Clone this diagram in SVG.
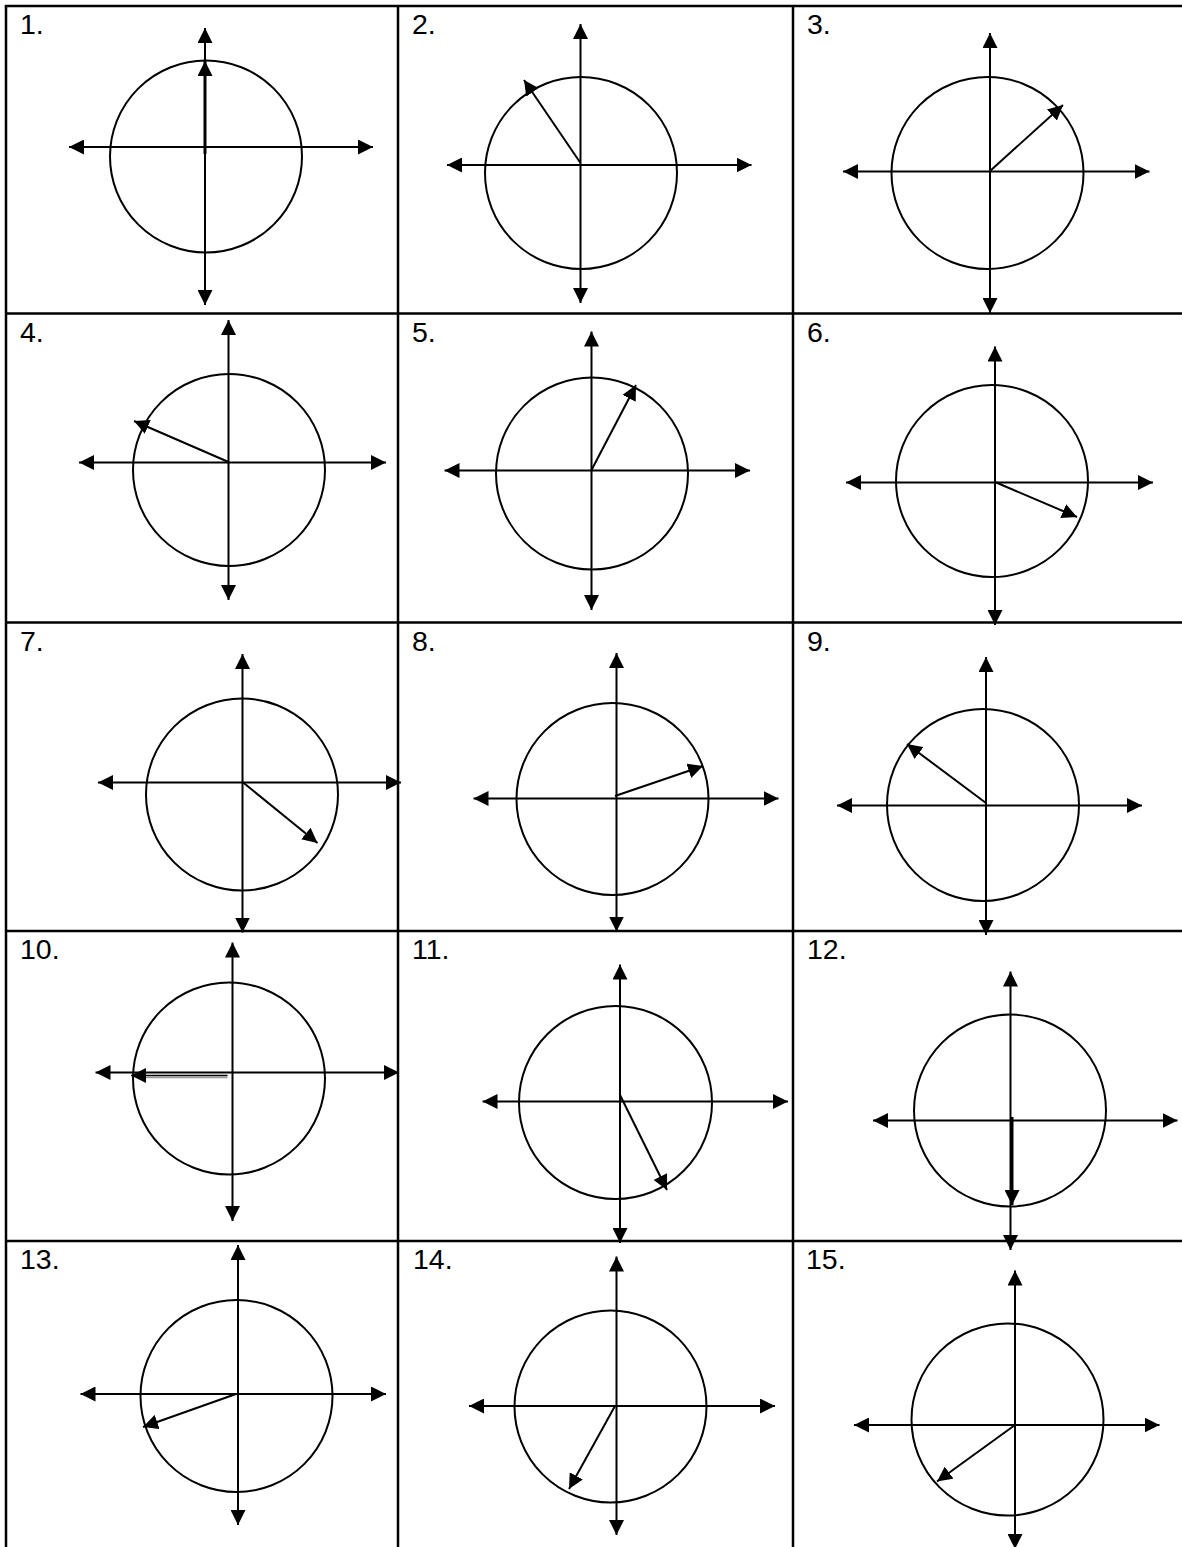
<svg xmlns="http://www.w3.org/2000/svg" width="1182" height="1547" viewBox="0 0 1182 1547">
<style>
.grid{stroke:#000;stroke-width:2.5;fill:none}
.axis{stroke:#000;stroke-width:2;fill:none;marker-start:url(#ah);marker-end:url(#ah)}
.circ{stroke:#000;stroke-width:2;fill:none}
.vec{stroke:#000;stroke-width:2;fill:none;marker-end:url(#ah)}
.vec.bold{stroke-width:3}
.lbl{font-family:"Liberation Sans",Arial,sans-serif;font-size:28.5px;fill:#000}
</style>
<defs>
<marker id="ah" viewBox="0 0 15 15" refX="15" refY="7.5" markerWidth="15" markerHeight="15" markerUnits="userSpaceOnUse" orient="auto-start-reverse">
<path d="M0,0 L15,7.5 L0,15 Z" fill="#000"/>
</marker>
</defs>
<rect width="1182" height="1547" fill="#fff"/>
<g id="table" class="grid">
<line x1="4.75" y1="6" x2="1182" y2="6"/>
<line x1="6" y1="313.5" x2="1182" y2="313.5"/>
<line x1="6" y1="622.5" x2="1182" y2="622.5"/>
<line x1="6" y1="931" x2="1182" y2="931"/>
<line x1="6" y1="1241" x2="1182" y2="1241"/>
<line x1="6" y1="6" x2="6" y2="1547"/>
<line x1="398" y1="6" x2="398" y2="1547"/>
<line x1="793" y1="6" x2="793" y2="1547"/>
</g>
<g id="labels" class="lbl">
<text x="20" y="34">1.</text>
<text x="412" y="34">2.</text>
<text x="807" y="34">3.</text>
<text x="20" y="342">4.</text>
<text x="412" y="342">5.</text>
<text x="807" y="342">6.</text>
<text x="20" y="651">7.</text>
<text x="412" y="651">8.</text>
<text x="807" y="651">9.</text>
<text x="20" y="959">10.</text>
<text x="412" y="959">11.</text>
<text x="807" y="959">12.</text>
<text x="20" y="1269">13.</text>
<text x="413" y="1269">14.</text>
<text x="806" y="1269">15.</text>
</g>
<g id="cell1">
<circle class="circ" cx="206" cy="156.5" r="96"/>
</g>
<g id="cell2">
<circle class="circ" cx="581" cy="173" r="96"/>
</g>
<g id="cell3">
<circle class="circ" cx="987.5" cy="173" r="96"/>
</g>
<g id="cell4">
<circle class="circ" cx="229" cy="470" r="96"/>
</g>
<g id="cell5">
<circle class="circ" cx="592" cy="473.5" r="96"/>
</g>
<g id="cell6">
<circle class="circ" cx="992" cy="481" r="96"/>
</g>
<g id="cell7">
<circle class="circ" cx="242" cy="794.5" r="96"/>
</g>
<g id="cell8">
<circle class="circ" cx="612.5" cy="799" r="96"/>
</g>
<g id="cell9">
<circle class="circ" cx="983" cy="805" r="96"/>
</g>
<g id="cell10">
<circle class="circ" cx="229" cy="1078.5" r="96"/>
</g>
<g id="cell11">
<circle class="circ" cx="615.5" cy="1102.5" r="96.5"/>
</g>
<g id="cell12">
<circle class="circ" cx="1010" cy="1110.5" r="96"/>
</g>
<g id="cell13">
<circle class="circ" cx="236.5" cy="1396" r="96"/>
</g>
<g id="cell14">
<circle class="circ" cx="610.5" cy="1406.5" r="96"/>
</g>
<g id="cell15">
<circle class="circ" cx="1007.5" cy="1419.5" r="96"/>
</g>
<g id="connectors">
<line class="axis" x1="205" y1="28" x2="205" y2="305"/>
<line class="axis" x1="69" y1="147" x2="373" y2="147"/>
<line class="vec bold" x1="205" y1="154" x2="205" y2="61"/>
<line class="axis" x1="580.5" y1="24" x2="580.5" y2="303"/>
<line class="axis" x1="447" y1="165" x2="751.5" y2="165"/>
<line class="vec" x1="580.5" y1="163" x2="524" y2="80"/>
<line class="axis" x1="990" y1="33" x2="990" y2="313"/>
<line class="axis" x1="843" y1="171.5" x2="1149.5" y2="171.5"/>
<line class="vec" x1="990" y1="171" x2="1063" y2="105"/>
<line class="axis" x1="228.5" y1="320" x2="228.5" y2="600"/>
<line class="axis" x1="79" y1="462.5" x2="386" y2="462.5"/>
<line class="vec" x1="228.5" y1="462" x2="134" y2="421"/>
<line class="axis" x1="591.5" y1="331.5" x2="591.5" y2="610"/>
<line class="axis" x1="444.5" y1="470.5" x2="750" y2="470.5"/>
<line class="vec" x1="591.5" y1="470" x2="636" y2="385"/>
<line class="axis" x1="995" y1="346.5" x2="995" y2="625"/>
<line class="axis" x1="846" y1="482.5" x2="1153" y2="482.5"/>
<line class="vec" x1="995" y1="482" x2="1077" y2="517"/>
<line class="axis" x1="242.5" y1="654" x2="242.5" y2="932.5"/>
<line class="axis" x1="98" y1="782.5" x2="401" y2="782.5"/>
<line class="vec" x1="242.5" y1="782" x2="317.5" y2="843"/>
<line class="axis" x1="616.5" y1="653" x2="616.5" y2="931.5"/>
<line class="axis" x1="473.5" y1="798.5" x2="778.5" y2="798.5"/>
<line class="vec" x1="615" y1="796" x2="703" y2="766"/>
<line class="axis" x1="986" y1="657" x2="986" y2="935"/>
<line class="axis" x1="837" y1="805.5" x2="1142" y2="805.5"/>
<line class="vec" x1="986" y1="803" x2="907" y2="744"/>
<line class="axis" x1="232.5" y1="942.5" x2="232.5" y2="1221"/>
<line class="axis" x1="95.5" y1="1072.5" x2="399" y2="1072.5"/>
<line x1="227.5" y1="1077.5" x2="140" y2="1077.5" stroke="#999" stroke-width="1.5"/>
<line class="vec" x1="227.5" y1="1075.5" x2="131" y2="1075.5" style="stroke-width:1.5"/>
<line class="axis" x1="620" y1="964.5" x2="620" y2="1243"/>
<line class="axis" x1="482.5" y1="1101.5" x2="788" y2="1101.5"/>
<line class="vec" x1="620" y1="1095" x2="667" y2="1190"/>
<line class="axis" x1="1010.5" y1="971.5" x2="1010.5" y2="1250"/>
<line class="axis" x1="873" y1="1120.5" x2="1177.5" y2="1120.5"/>
<line class="vec bold" x1="1012" y1="1117" x2="1012" y2="1205"/>
<line class="axis" x1="238" y1="1245" x2="238" y2="1525"/>
<line class="axis" x1="80.5" y1="1394" x2="386" y2="1394"/>
<line class="vec" x1="236" y1="1394" x2="143" y2="1427"/>
<line class="axis" x1="616.5" y1="1256.5" x2="616.5" y2="1535"/>
<line class="axis" x1="469" y1="1406" x2="775" y2="1406"/>
<line class="vec" x1="615" y1="1406" x2="569" y2="1489"/>
<line class="axis" x1="1015" y1="1270.5" x2="1015" y2="1549"/>
<line class="axis" x1="854" y1="1425" x2="1159.5" y2="1425"/>
<line class="vec" x1="1015" y1="1425" x2="937" y2="1481.5"/>
</g>
</svg>
